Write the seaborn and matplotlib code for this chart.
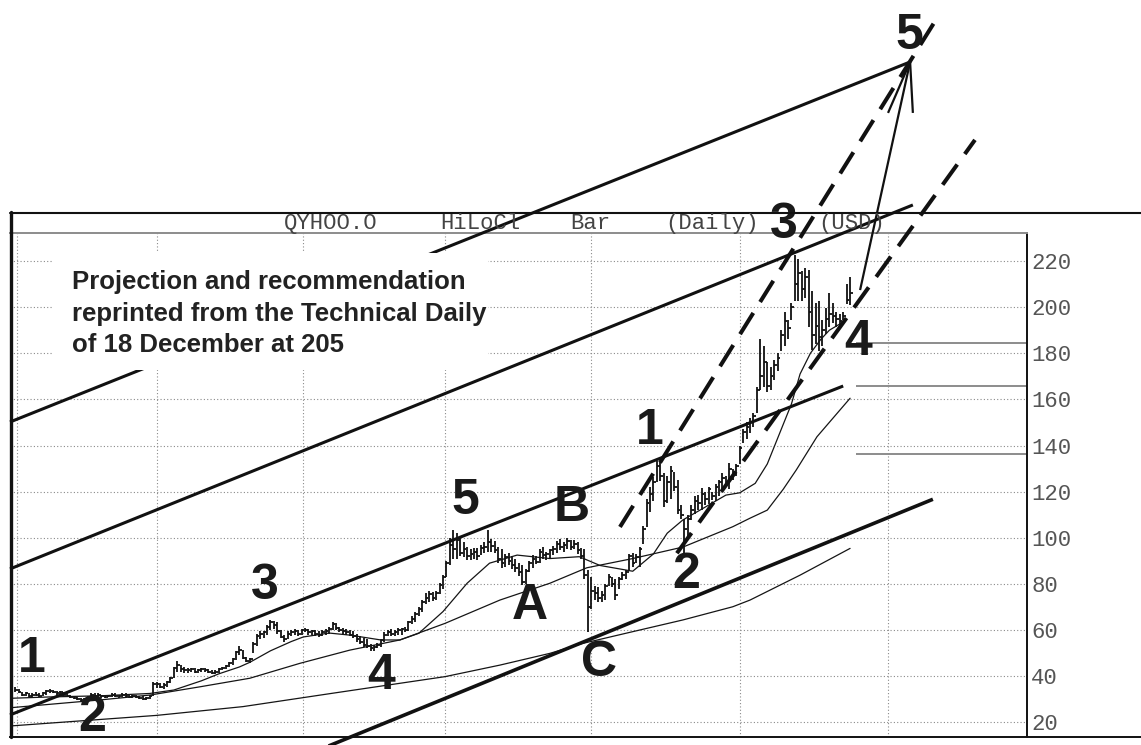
import matplotlib
matplotlib.use("Agg")
import matplotlib.pyplot as plt
from matplotlib.lines import Line2D
from matplotlib.patches import Rectangle
import pandas as pd
import seaborn as sns

# ---------------- daily HiLoCl bars (trading-day index 0..242) ----------------
bar_high = [
    35.5, 34.5, 33, 33, 32.5, 32.5, 33, 32.5, 33, 34,
    34.5, 34, 33.5, 33.5, 33, 32.5, 32, 31.5, 31, 30.5,
    30.5, 31.5, 32.5, 32.5, 32.5, 32, 32, 32, 32.5, 32.5,
    32, 32.5, 32.5, 32, 32, 32, 31.5, 31.5, 31, 32,
    37.5, 37.5, 37, 37, 38, 39.5, 44, 46.5, 45, 44,
    43.5, 43.5, 43.5, 43, 43.5, 43.5, 43, 42.5, 42.5, 43.5,
    44, 45, 46, 48, 51, 53, 51.5, 48.5, 48, 55,
    58.5, 59.5, 59.5, 62, 64.5, 64, 63.5, 60, 58, 59.5,
    60, 60.5, 60, 60.5, 61, 60.5, 60, 60, 59.5, 60,
    60.5, 61.5, 63.5, 63, 61.5, 61, 60.5, 60, 59.5, 58.5,
    57.5, 56.5, 56, 54, 53.5, 54.5, 56, 59, 60, 60.5,
    60, 61, 61, 61.5, 64, 66, 68, 70, 73, 76,
    77, 76.5, 77, 80.5, 84, 90, 100, 103.5, 102, 100,
    98, 96, 95, 95.5, 95.5, 97, 98, 103.5, 99.5, 98.5,
    96, 95, 93, 93.5, 92, 91, 89, 88, 86.5, 90,
    92.5, 92, 95, 96, 94, 95, 96.5, 98.5, 99.5, 98,
    100, 99, 99, 98, 95.5, 95, 86, 83, 79, 78.5,
    77, 80, 84.5, 83, 82, 83, 85, 86, 93, 93.5,
    93, 96, 105, 117, 122, 126.5, 133.5, 133, 128, 127,
    131, 128.5, 125, 114, 108, 110, 114, 118, 118.5, 121.5,
    120, 122, 120, 123.5, 125, 128, 127, 132.5, 130, 132,
    140, 147, 150, 152, 154, 165.5, 186, 183, 176, 174,
    177, 180, 190, 198, 194.5, 202, 222.5, 221, 215.5, 217,
    216, 207, 202, 202.5, 194.5, 199.5, 206, 202, 198, 197,
    198, 210, 213,
]
bar_low = [
    33, 32.5, 31.5, 31.5, 31, 31, 31.5, 31, 31.5, 32,
    32.5, 32.5, 32, 32, 31.5, 31, 30.5, 30, 29.5, 29,
    29, 29.5, 30.5, 31, 31, 30.5, 30.5, 31, 31, 31,
    30.5, 31, 31, 30.5, 30.5, 30.5, 30, 29.5, 29.5, 30,
    31.5, 35, 35, 34.5, 35.5, 37, 39, 42, 42, 41.5,
    41.5, 42, 41.5, 41.5, 42, 42, 41.5, 41, 41, 41.5,
    42.5, 43, 44, 45, 47, 49, 47.5, 46, 45.5, 50,
    53, 56, 56.5, 58, 60, 60.5, 58.5, 56.5, 55, 56,
    57.5, 58, 57.5, 58, 59, 58, 58, 57.5, 57, 57.5,
    58, 58.5, 60, 60, 59, 58.5, 58, 57.5, 56.5, 55,
    54, 52.5, 52, 51, 51, 52, 52.5, 55, 57.5, 57.5,
    57.5, 58, 58, 59, 59.5, 62.5, 63.5, 66, 68, 71.5,
    72, 72.5, 73, 75.5, 78, 83, 88, 91, 91, 92,
    91.5, 90.5, 90.5, 91, 90.5, 92.5, 93.5, 94, 94, 93.5,
    89, 87, 87.5, 88, 86.5, 85, 83.5, 79.5, 80, 85,
    87, 88.5, 89, 91, 90.5, 91, 92.5, 93.5, 94.5, 94,
    95, 94.5, 95, 93, 91, 82, 59, 69, 73, 72,
    72, 73, 79, 78.5, 73, 78, 81.5, 82, 86, 87.5,
    89, 87.5, 97.5, 104.5, 111, 116, 124, 124.5, 113.5, 115,
    117, 120.5, 110.5, 108, 93.5, 100.5, 107.5, 110.5, 112, 112,
    114, 114.5, 116.5, 116, 118, 120.5, 122, 121, 125, 127,
    132, 141, 143, 145.5, 148, 154, 164, 165.5, 163, 164,
    168.5, 172.5, 181, 183, 186, 194.5, 202.5, 202.5, 202.5, 204,
    191.5, 181.5, 184, 181, 183, 188.5, 191.5, 193, 191.5, 191,
    194.5, 201.5, 201,
]
bar_close = [
    34, 33, 32, 32.5, 31.5, 32, 32, 31.5, 32.5, 33.5,
    33.5, 33, 32.5, 33, 32, 31.5, 31, 30.5, 30, 29.5,
    30, 31, 32, 31.5, 32, 31.5, 31, 31.5, 32, 31.5,
    31.5, 32, 31.5, 31, 31.5, 31, 30.5, 30, 30.5, 31.5,
    36.5, 36.5, 35.5, 36, 37.5, 39, 43.5, 45, 43, 42.5,
    42.5, 43, 42, 42.5, 43, 42.5, 42, 41.5, 42, 43,
    43.5, 44.5, 45.5, 47.5, 50.5, 51.5, 48, 46.5, 47.5, 54,
    57.5, 58.5, 59, 61.5, 63.5, 62, 59.5, 57, 56, 58.5,
    59, 59.5, 58.5, 60, 60, 59, 59.5, 58.5, 58, 59,
    59.5, 60.5, 62.5, 61, 60, 59.5, 59, 58, 57.5, 56,
    55, 53.5, 53, 52, 52.5, 53.5, 55.5, 58, 59, 58.5,
    59, 60, 60.5, 60, 63.5, 65, 67, 69, 72, 74,
    75.5, 74, 76, 79.5, 83, 89, 97, 95, 99, 93.5,
    95, 92, 93, 94, 92, 95.5, 96, 98, 96.5, 94.5,
    91, 89, 91.5, 90, 88, 87, 85, 81, 85.5, 89,
    91, 89.5, 94, 92.5, 93, 94.5, 95, 97.5, 96, 97,
    98.5, 96, 97.5, 94.5, 92, 84, 70, 77, 76, 74,
    75, 79, 83, 80, 75, 82, 84, 85, 92, 89,
    91.5, 95, 104, 115, 119, 124, 131, 127, 116, 124,
    129, 122, 112, 110, 104, 108, 112, 116, 115, 119,
    117, 121, 118, 122, 124, 126, 124, 130, 128, 131,
    139, 146, 148, 150, 153, 164, 170, 176, 166, 170,
    175, 178, 188, 194, 191, 200, 210, 215, 208, 213,
    198, 188, 192, 187, 190, 195, 197, 196, 195, 194,
    196, 203, 206,
]

# ---------------- moving averages (day, value) ----------------
ma_fast_day = [-1.5, 10, 25, 39, 46, 54, 59, 65, 68, 74, 80, 83.5, 91, 97, 106,
               111.5, 117, 124, 131, 137.5, 145.5, 155, 163.5, 169.5, 179, 185,
               189, 193.5, 198.5, 206, 210, 214.5, 218, 221.5, 225, 227.5,
               230.5, 233.5, 236, 240.5]
ma_fast = [30.4, 31.0, 31.5, 32.5, 34, 38, 41, 44, 46, 51, 55, 57, 58.7, 57.8, 55.7,
           55.7, 58.6, 68, 80.3, 89, 92.5, 91, 91.8, 88, 85.5, 93,
           102, 107.7, 112, 118.5, 119.5, 123.6, 132, 145, 158, 171,
           180, 186, 190, 194]

ma_mid_day = [-1.5, 24.6, 39, 53.6, 68, 82.6, 97, 111.5, 124.6, 140.5, 155,
              165.7, 179, 193.6, 208, 213, 218, 222.6, 226.4, 232.4, 242]
ma_mid = [26.3, 29.7, 31.8, 35.4, 39.1, 45.6, 51.3, 55.7, 62.9, 73, 80.3,
          87, 91, 96, 104.8, 108.5, 112, 121, 129.4, 143.8, 160.5]

ma_slow_day = [-1.5, 41, 66, 92, 111, 124.6, 140.5, 155, 164.5, 179, 193.6,
               208, 213, 227.5, 242]
ma_slow = [18.4, 23, 26.8, 32.6, 36.8, 39.8, 44.8, 49.9, 54.2, 59.3, 64.4,
           70.1, 73, 83.8, 95.4]

# ---------------- Elliott wave trend lines (day, price) ----------------
channel_lower_x, channel_lower_y = [-1.5, 240.0], [23.2, 165.8]
channel_upper_x, channel_upper_y = [-1.5, 260.2], [86.5, 244.3]
channel_outer_x, channel_outer_y = [-1.5, 259.4], [150.2, 306.3]
base_line_x, base_line_y = [82.6, 266.0], [4.7, 116.7]
wave_top_x, wave_top_y = [175.3, 268.1], [104.7, 327.5]
wave_bottom_x, wave_bottom_y = [191.8, 278.2], [93.3, 272.5]
projection_x, projection_y = [244.9, 259.4], [207.4, 306.3]
arrow_x, arrow_y = [253.0, 259.4, 260.2], [284.2, 306.3, 284.2]

# target levels marked on the right
level_values = [184.3, 165.8, 136.3]
level_start = 243.7

# wave count labels
wave_text = ["1", "2", "3", "4", "5", "A", "B", "C", "1", "2", "3", "4", "5"]
wave_x = [4.9, 22.3, 72.4, 106.0, 130.4, 149.2, 161.4, 169.2, 184.0, 194.4, 222.8, 244.3, 259.1]
wave_y = [47.4, 21.8, 79.1, 40.1, 116.0, 70.4, 112.9, 45.7, 146.3, 83.9, 235.6, 184.9, 317.6]

# axis structure
grid_days = [0.5, 41, 83.5, 124.5, 167, 210, 253]
price_ticks = [20, 40, 60, 80, 100, 120, 140, 160, 180, 200, 220]
title_words = ["QYHOO.O", "HiLoCl", "Bar", "(Daily)", "(USD)"]
title_word_px = [331, 480, 590, 712, 852]

note = "Projection and recommendation\nreprinted from the Technical Daily\nof 18 December at 205"

sns.set_theme(style="white")
plt.rcParams["font.family"] = ["Liberation Sans", "DejaVu Sans"]

W, H = 1141, 745
fig = plt.figure(figsize=(W / 100, H / 100), dpi=100, facecolor="white")
ax = fig.add_axes([10 / W, 8 / H, 1017 / W, 504 / H])
ax.set_facecolor("white")
ax.set_xlim(-1.5, 293.28)
ax.set_ylim(13.63, 232.14)

# dotted grid
ax.set_xticks(grid_days)
ax.set_yticks(price_ticks)
ax.set_xticklabels([])
ax.yaxis.tick_right()
ax.set_yticklabels([str(v) for v in price_ticks], family="Liberation Mono",
                   fontsize=16, color="#555555")
ax.tick_params(axis="both", length=0, pad=3)
ax.grid(True, color="#8a8a8a", linestyle=(0, (1, 2)), linewidth=0.8)
ax.set_axisbelow(True)

ax.spines["left"].set_visible(False)
ax.spines["top"].set_color("#8c8c8c")
ax.spines["top"].set_linewidth(1.4)
ax.spines["right"].set_color("#111111")
ax.spines["right"].set_linewidth(1.4)
ax.spines["bottom"].set_color("#111111")
ax.spines["bottom"].set_linewidth(1.4)

# HiLoCl bars
bars = pd.DataFrame({"day": range(len(bar_close)), "high": bar_high,
                     "low": bar_low, "close": bar_close})
ax.vlines(bars["day"], bars["low"], bars["high"], color="#111111", lw=1.3, zorder=3)
ax.hlines(bars["close"], bars["day"], bars["day"] + 0.8, color="#111111", lw=1.3, zorder=3)

# moving averages
for d, v in [(ma_fast_day, ma_fast), (ma_mid_day, ma_mid), (ma_slow_day, ma_slow)]:
    sns.lineplot(x=d, y=v, ax=ax, color="#151515", lw=0.9, estimator=None,
                 sort=False, zorder=3)

# target levels
ax.hlines(level_values, level_start, 293.28, color="#8c8c8c", lw=1.4, zorder=2)

# channel lines, drawn past the plot frame
solid = dict(color="#111111", solid_capstyle="butt", clip_on=False, zorder=4)
ax.plot(channel_lower_x, channel_lower_y, lw=2.2, **solid)
ax.plot(channel_upper_x, channel_upper_y, lw=2.2, **solid)
ax.plot(channel_outer_x, channel_outer_y, lw=2.2, **solid)
ax.plot(base_line_x, base_line_y, lw=2.6, **solid)
ax.plot(projection_x, projection_y, lw=1.6, **solid)
ax.plot(arrow_x, arrow_y, lw=1.6, **solid)

dashed = dict(color="#111111", lw=2.9, linestyle=(0, (6.2, 3.2)),
              dash_capstyle="butt", clip_on=False, zorder=4)
ax.plot(wave_top_x, wave_top_y, **dashed)
ax.plot(wave_bottom_x, wave_bottom_y, **dashed)

# reprint note on a white panel
ax.add_patch(Rectangle((11.0, 172.7), 126.0, 50.8, facecolor="white",
                       edgecolor="none", zorder=5))
ax.text(16.5, 216.1, note, ha="left", va="top", fontsize=18.5,
        fontweight="bold", color="#222222", linespacing=1.40, zorder=6)

# wave counts
for t, x, y in zip(wave_text, wave_x, wave_y):
    ax.text(x, y, t, ha="center", va="center", fontsize=36, fontweight="bold",
            color="#1a1a1a", zorder=7, clip_on=False)

# header band and outer frame
for word, px in zip(title_words, title_word_px):
    fig.text(px / W, 1 - 223.5 / H, word, ha="center", va="center",
             family="Liberation Mono", fontsize=16, color="#444444")
fig.add_artist(Line2D([10 / W, 1], [1 - 212.5 / H] * 2, color="#111111", lw=1.5))
fig.add_artist(Line2D([11 / W] * 2, [1 - 212 / H, 8 / H], color="#111111", lw=2.4))
fig.add_artist(Line2D([1027 / W, 1], [8 / H] * 2, color="#111111", lw=1.4))

fig.savefig("out.png", dpi=100, facecolor="white")
